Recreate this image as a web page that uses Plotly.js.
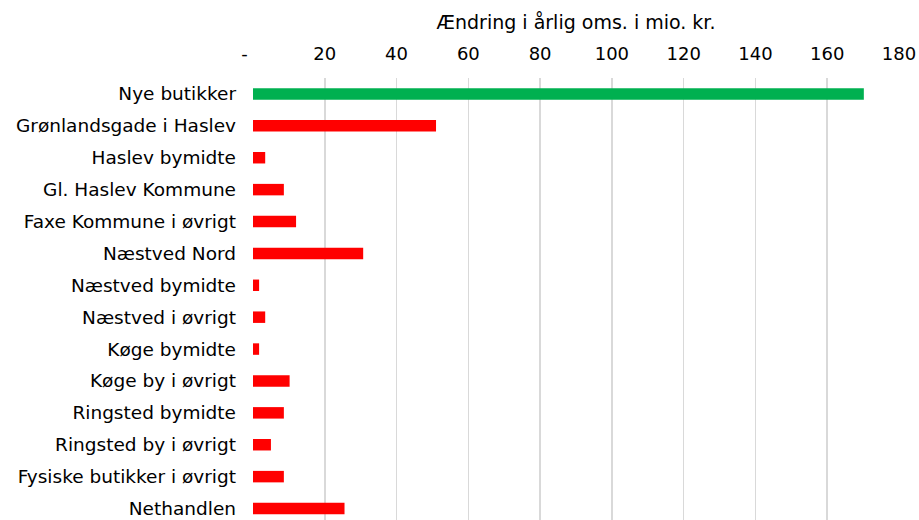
<!DOCTYPE html>
<html>
<head>
<meta charset="utf-8">
<script src="https://cdn.plot.ly/plotly-3.0.1.min.js"></script>
<style>html,body{margin:0;padding:0;background:#fff;}#chart{width:919px;height:520px;}</style>
</head>
<body>
<div id="chart"></div>
<script>
const categories = ["Nye butikker","Grønlandsgade i Haslev","Haslev bymidte","Gl. Haslev Kommune","Faxe Kommune i øvrigt","Næstved Nord","Næstved bymidte","Næstved i øvrigt","Køge bymidte","Køge by i øvrigt","Ringsted bymidte","Ringsted by i øvrigt","Fysiske butikker i øvrigt","Nethandlen"];
const values = [170.2, 51.0, 3.4, 8.6, 12.0, 30.7, 1.7, 3.4, 1.7, 10.2, 8.6, 5.0, 8.6, 25.5];
const barColors = ["#00B050","#FF0000","#FF0000","#FF0000","#FF0000","#FF0000","#FF0000","#FF0000","#FF0000","#FF0000","#FF0000","#FF0000","#FF0000","#FF0000"];
const tickValues = [0,20,40,60,80,100,120,140,160,180];
const tickLabels = ["-\u00a0\u00a0\u00a0","20","40","60","80","100","120","140","160","180"];
const xTitle = "Ændring i årlig oms. i mio. kr.";

const trace = {
  type: "bar",
  orientation: "h",
  x: values,
  y: categories,
  marker: {color: barColors},
  hoverinfo: "x+y"
};
const layout = {
  width: 919, height: 520,
  margin: {l: 253, r: 20, t: 78, b: 0},
  paper_bgcolor: "#fff", plot_bgcolor: "#fff",
  font: {family: "DejaVu Sans, Verdana, sans-serif", size: 18, color: "#000"},
  showlegend: false,
  bargap: 0.64,
  xaxis: {
    side: "top",
    range: [0, 180],
    tickvals: tickValues,
    ticktext: tickLabels,
    showgrid: true,
    gridcolor: "#D9D9D9",
    gridwidth: 1.5,
    zeroline: false,
    showline: false,
    ticks: "",
    ticklabelstandoff: 13,
    tickfont: {size: 18},
    title: {text: xTitle, font: {size: 19}, standoff: 8}
  },
  yaxis: {
    type: "category",
    categoryorder: "array",
    categoryarray: categories,
    range: [13.36, -0.5],
    showgrid: false,
    zeroline: false,
    showline: false,
    ticks: "",
    ticklabelstandoff: 16,
    tickfont: {size: 18.5}
  }
};
Plotly.newPlot("chart", [trace], layout, {displayModeBar: false, staticPlot: true});
</script>
</body>
</html>
